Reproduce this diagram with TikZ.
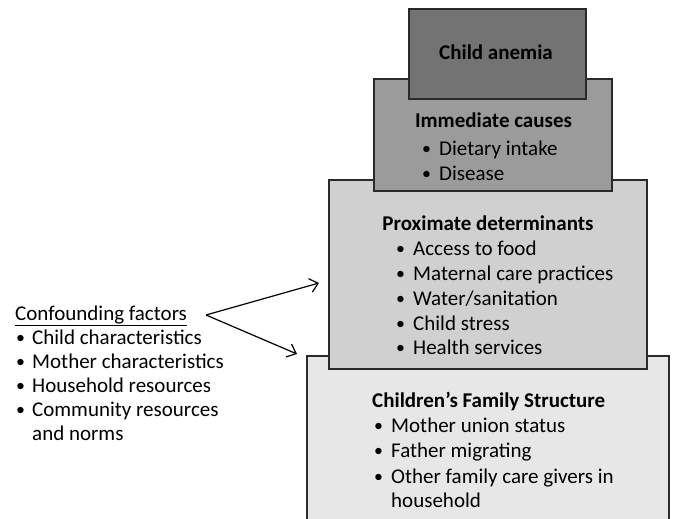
\documentclass[tikz,border=0pt]{standalone}
\usepackage{fontspec}
\setmainfont{Carlito}
\usetikzlibrary{arrows.meta}
\definecolor{anemiafill}{HTML}{737373}
\definecolor{immfill}{HTML}{9B9B9B}
\definecolor{proxfill}{HTML}{D0D0D0}
\definecolor{famfill}{HTML}{E7E7E7}
\definecolor{edge}{HTML}{2A2A2A}
\tikzset{
  box/.style={draw=edge, line width=1.3pt, rectangle, inner sep=0pt},
  txt/.style={anchor=base west, inner sep=0pt, font=\fontsize{21}{25}\selectfont},
  ttl/.style={anchor=base west, inner sep=0pt, font=\fontsize{21}{25}\selectfont\bfseries},
  conn/.style={line width=1.2pt, -{Straight Barb[length=8pt,width=14pt,line width=1.2pt]}}
}
\newcommand{\bul}[1]{\makebox[17pt][l]{\raisebox{0.5pt}{\scalebox{0.85}{•}}}#1}
\begin{document}
\begin{tikzpicture}[x=1pt,y=-1pt]
\useasboundingbox (0,0) rectangle (673,519);
% boxes, bottom-most first
\node[box, fill=famfill, minimum width=362pt, minimum height=180pt] (fam) at (488,446) {};
\node[box, fill=proxfill, minimum width=318pt, minimum height=189pt] (prox) at (488,274.5) {};
\node[box, fill=immfill, minimum width=238pt, minimum height=112pt] (imm) at (493,135) {};
\node[box, fill=anemiafill, minimum width=177pt, minimum height=90pt] (anemia) at (497.5,54) {};
% texts
\node[ttl, anchor=base] (tanemia) at (496,60) {Child anemia};
\node[ttl, anchor=base] (timm) at (493.5,128) {Immediate causes};
\node[txt] (i1) at (422,155) {\bul{Dietary intake}};
\node[txt] (i2) at (422,180) {\bul{Disease}};
\node[ttl, anchor=base] (tprox) at (488,230) {Proximate determinants};
\node[txt] (p1) at (396,255) {\bul{Access to food}};
\node[txt] (p2) at (396,280) {\bul{Maternal care practices}};
\node[txt] (p3) at (396,305) {\bul{Water/sanitation}};
\node[txt] (p4) at (396,330) {\bul{Child stress}};
\node[txt] (p5) at (396,354) {\bul{Health services}};
\node[ttl] (tfam) at (372,407) {Children’s Family Structure};
\node[txt] (f1) at (374,432) {\bul{Mother union status}};
\node[txt] (f2) at (374,457) {\bul{Father migrating}};
\node[txt] (f3) at (374,483) {\bul{Other family care givers in}};
\node[txt] (f4) at (391,507) {household};
\node[txt] (tconf) at (15,320) {\underline{Confounding factors}};
\node[txt] (c1) at (16,344) {\makebox[16pt][l]{\raisebox{0.5pt}{\scalebox{0.85}{•}}}Child characteristics};
\node[txt] (c2) at (16,368) {\makebox[16pt][l]{\raisebox{0.5pt}{\scalebox{0.85}{•}}}Mother characteristics};
\node[txt] (c3) at (16,392) {\makebox[16pt][l]{\raisebox{0.5pt}{\scalebox{0.85}{•}}}Household resources};
\node[txt] (c4) at (16,416) {\makebox[16pt][l]{\raisebox{0.5pt}{\scalebox{0.85}{•}}}Community resources};
\node[txt] (c5) at (32,440) {and norms};
% connectors
\coordinate (v) at (206,315);
\coordinate (up) at (319,283);
\coordinate (dn) at (297,354);
\draw[conn] (v) -- (up);
\draw[conn] (v) -- (dn);
\end{tikzpicture}
\end{document}
